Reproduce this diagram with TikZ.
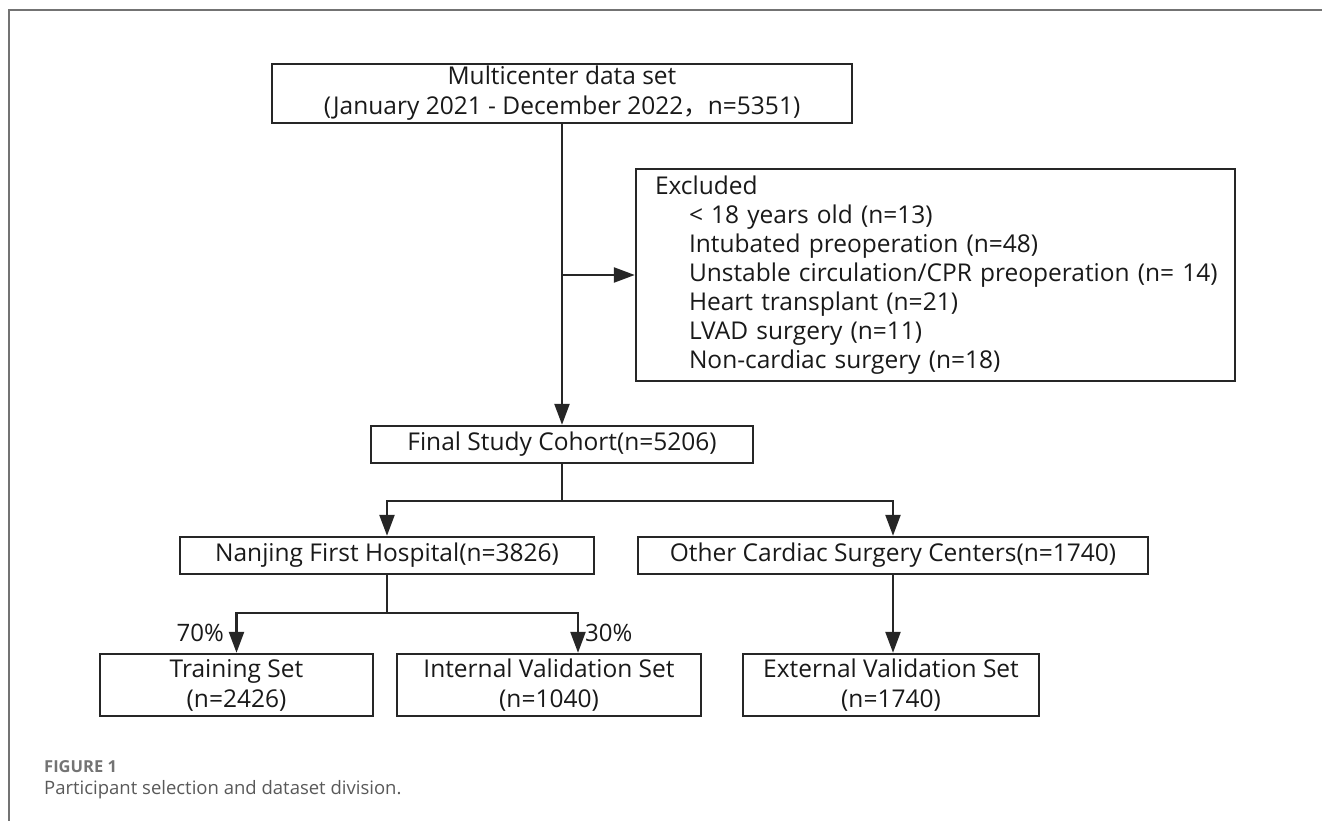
\documentclass[tikz,border=0pt]{standalone}
\usepackage{fontspec}
\setmainfont{Open Sans}
\newfontfamily\cjk{Noto Sans CJK SC}
\usetikzlibrary{arrows.meta}
\begin{document}
\begin{tikzpicture}[x=1pt,y=-1pt,
  box/.style={draw=black!85, line width=2.4pt, rectangle, inner sep=0pt, align=center,
    font=\fontsize{24.5}{30}\selectfont, text=black!90},
  conn/.style={draw=black!85, line width=2.4pt},
  arr/.style={conn, -{Triangle[length=21pt,width=15pt]}},
  lbl/.style={font=\fontsize{24}{30}\selectfont, text=black!90, inner sep=0pt},
  framel/.style={draw=black!55, line width=1.5pt}]
\useasboundingbox (0,0) rectangle (1322,821);
\draw[framel] (9,821) -- (9,10) -- (1322,10);

\node[box, minimum width=580pt, minimum height=59pt] (top) at (562,93.5)
  {Multicenter data set\\(January 2021 - December 2022{\cjk ，}n=5351)};
\node[box, minimum width=599pt, minimum height=212pt, inner xsep=19pt, text width=561pt, align=left, font=\fontsize{24.5}{29}\selectfont] (exc) at (935.5,275)
  {\mbox{Excluded}\\
   \mbox{\hspace*{34pt}< 18 years old (n=13)}\\
   \mbox{\hspace*{34pt}Intubated preoperation (n=48)}\\
   \mbox{\hspace*{34pt}Unstable circulation/CPR preoperation (n= 14)}\\
   \mbox{\hspace*{34pt}Heart transplant (n=21)}\\
   \mbox{\hspace*{34pt}LVAD surgery (n=11)}\\
   \mbox{\hspace*{34pt}Non-cardiac surgery (n=18)}};
\node[box, minimum width=382pt, minimum height=37pt] (final) at (562,444.5) {Final Study Cohort(n=5206)};
\node[box, minimum width=414pt, minimum height=37pt] (nj) at (387,555.5) {Nanjing First Hospital(n=3826)};
\node[box, minimum width=510pt, minimum height=37pt] (oth) at (893,555.5) {Other Cardiac Surgery Centers(n=1740)};
\node[box, minimum width=273pt, minimum height=62pt] (tr) at (236.5,685) {Training Set\\(n=2426)};
\node[box, minimum width=304pt, minimum height=62pt] (iv) at (549,685) {Internal Validation Set\\(n=1040)};
\node[box, minimum width=296pt, minimum height=62pt] (ev) at (891,685) {External Validation Set\\(n=1740)};

\coordinate (j1) at (562,275);
\coordinate (s1) at (562,501);
\coordinate (s2) at (387,613);
\coordinate (ivtop) at ([xshift=29pt]iv.north);

\draw[arr] (top.south) -- (final.north);
\draw[arr] (j1) -- (exc.west |- j1);
\draw[conn] (final.south) -- (s1);
\draw[arr] (s1) -| (nj.north);
\draw[arr] (s1) -| (oth.north);
\draw[conn] (nj.south) -- (s2);
\draw[arr] (s2) -| (tr.north);
\draw[arr] (s2) -| (ivtop);
\draw[arr] (oth.south) -- (oth.south |- ev.north);

\node[lbl, anchor=east] (p70) at (224,633) {70\%};
\node[lbl, anchor=west] (p30) at (585,633) {30\%};

\node[anchor=west, inner sep=0pt, font=\fontsize{16.5}{19}\selectfont\bfseries, text=black!55] (fig) at (44,767) {FIGURE 1};
\node[anchor=west, inner sep=0pt, font=\fontsize{18.5}{22}\selectfont, text=black!65] (cap) at (44,790) {Participant selection and dataset division.};
\end{tikzpicture}
\end{document}
